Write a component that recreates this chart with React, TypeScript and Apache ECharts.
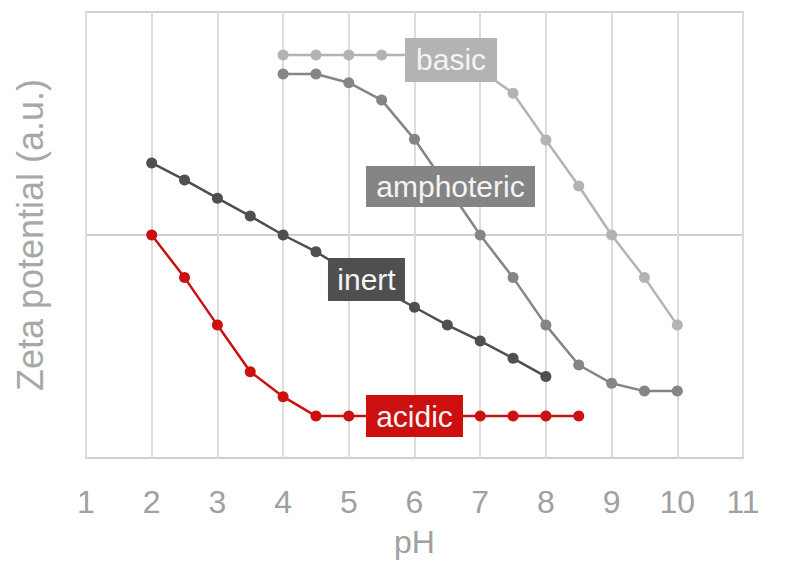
import React, { useEffect, useRef } from "react";
import * as echarts from "echarts";

// pH values and zeta potentials (arbitrary units, -1..1)
const basicPH = [4, 4.5, 5, 5.5, 6, 6.5, 7, 7.5, 8, 8.5, 9, 9.5, 10];
const basicZeta = [0.807, 0.807, 0.807, 0.807, 0.807, 0.8, 0.74, 0.636, 0.426, 0.22, 0, -0.191, -0.404];

const amphPH = [4, 4.5, 5, 5.5, 6, 6.5, 7, 7.5, 8, 8.5, 9, 9.5, 10];
const amphZeta = [0.722, 0.722, 0.683, 0.605, 0.429, 0.215, 0, -0.191, -0.404, -0.583, -0.665, -0.7, -0.7];

const inertPH = [2, 2.5, 3, 3.5, 4, 4.5, 5, 5.5, 6, 6.5, 7, 7.5, 8];
const inertZeta = [0.323, 0.247, 0.165, 0.085, 0, -0.075, -0.165, -0.245, -0.324, -0.404, -0.475, -0.553, -0.635];

const acidicPH = [2, 2.5, 3, 3.5, 4, 4.5, 5, 5.5, 6, 6.5, 7, 7.5, 8, 8.5];
const acidicZeta = [0, -0.191, -0.404, -0.613, -0.725, -0.812, -0.812, -0.812, -0.812, -0.812, -0.812, -0.812, -0.812, -0.812];

// in-chart labels
const labelNames = ["basic", "amphoteric", "inert", "acidic"];
const labelPH = [6.556, 6.548, 5.269, 6.0];
const labelZeta = [0.785, 0.217, -0.2, -0.812];

const COLORS = {
  basic: "#b3b3b3",
  amphoteric: "#858585",
  inert: "#4f4f4f",
  acidic: "#cc1010",
};
const LABEL_SIZES: Record<string, number[]> = {
  basic: [92, 44],
  amphoteric: [169, 41],
  inert: [77, 43],
  acidic: [97, 42],
};

const FONT = "'Liberation Sans', Arial, sans-serif";

function zip(xs: number[], ys: number[]) {
  return xs.map((x, i) => [x, ys[i]]);
}

export default function App() {
  const ref = useRef<HTMLDivElement>(null);
  useEffect(() => {
    if (!ref.current) return;
    const chart = echarts.init(ref.current, undefined, { renderer: "svg" });
    const lineSeries = (name: string, xs: number[], ys: number[], color: string) => ({
      name,
      type: "line",
      data: zip(xs, ys),
      symbol: "circle",
      symbolSize: 11,
      showSymbol: true,
      lineStyle: { color, width: 2.5 },
      itemStyle: { color },
      z: 3,
    });
    chart.setOption({
      animation: false,
      backgroundColor: "#ffffff",
      textStyle: { fontFamily: FONT },
      grid: {
        left: 86,
        right: 57,
        top: 12,
        bottom: 115,
        show: true,
        borderColor: "#d0d0d0",
        borderWidth: 2,
      },
      xAxis: {
        type: "value",
        min: 1,
        max: 11,
        interval: 1,
        name: "pH",
        nameLocation: "middle",
        nameGap: 68,
        nameTextStyle: { fontSize: 32, color: "#a0a0a0", fontFamily: FONT },
        axisLine: { show: false },
        axisTick: { show: false },
        axisLabel: { fontSize: 32, color: "#a0a0a0", margin: 28, fontFamily: FONT },
        splitLine: { show: true, lineStyle: { color: "#dcdcdc", width: 2 } },
      },
      yAxis: {
        type: "value",
        min: -1,
        max: 1,
        interval: 1,
        name: "Zeta potential (a.u.)",
        nameLocation: "middle",
        nameRotate: 90,
        nameGap: 38,
        nameTextStyle: { fontSize: 36, color: "#a8a8a8", fontFamily: FONT },
        axisLine: { show: false },
        axisTick: { show: false },
        axisLabel: { show: false },
        splitLine: { show: true, lineStyle: { color: "#d0d0d0", width: 2 } },
      },
      series: [
        lineSeries("basic", basicPH, basicZeta, COLORS.basic),
        lineSeries("amphoteric", amphPH, amphZeta, COLORS.amphoteric),
        lineSeries("inert", inertPH, inertZeta, COLORS.inert),
        lineSeries("acidic", acidicPH, acidicZeta, COLORS.acidic),
        {
          name: "labels",
          type: "scatter",
          z: 10,
          symbol: "rect",
          data: labelNames.map((n, i) => ({
            value: [labelPH[i], labelZeta[i]],
            name: n,
            symbolSize: LABEL_SIZES[n],
            itemStyle: { color: (COLORS as any)[n], opacity: 1 },
          })),
          label: {
            show: true,
            position: "inside",
            formatter: (p: any) => p.name,
            color: "#f4f4f4",
            fontSize: 30,
            fontFamily: FONT,
          },
          emphasis: { disabled: true },
        },
      ],
    });
    return () => chart.dispose();
  }, []);
  return (
    <div
      ref={ref}
      style={{ position: "absolute", left: 0, top: 0, width: 800, height: 573 }}
    />
  );
}
